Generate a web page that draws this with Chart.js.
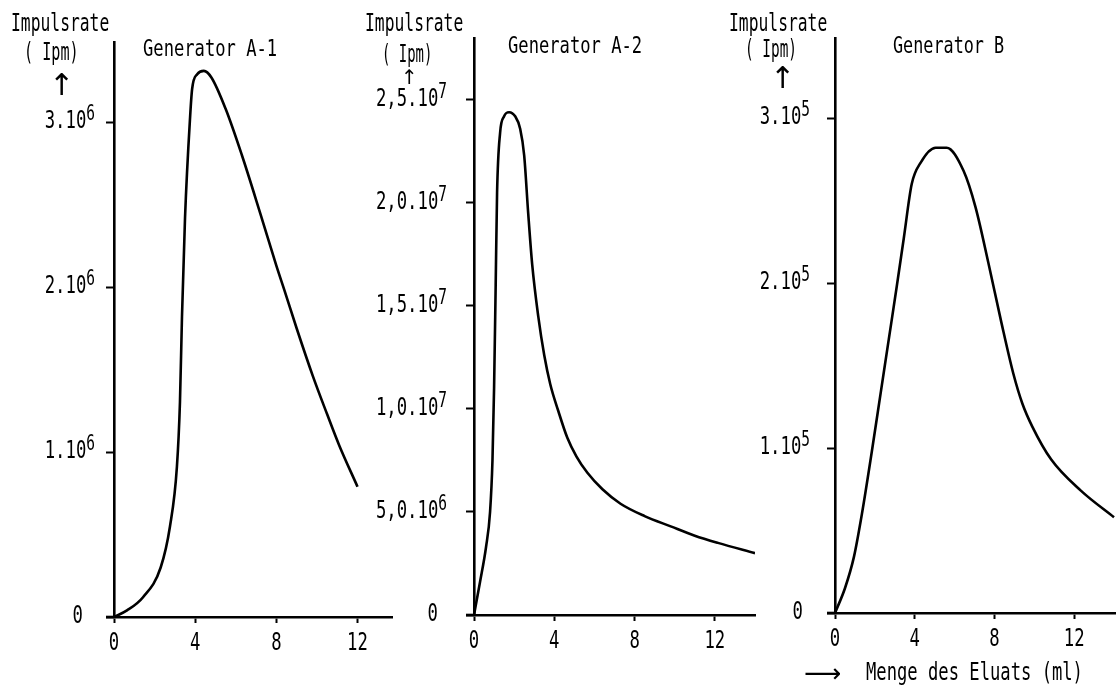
<!DOCTYPE html>
<html>
<head>
<meta charset="utf-8">
<script src="https://cdn.jsdelivr.net/npm/chart.js@4"></script>
<style>
html,body{margin:0;padding:0;background:#fff;width:1116px;height:689px;overflow:hidden;position:relative;}
canvas{position:absolute;top:0;}
.t{position:absolute;font-family:'DejaVu Sans Mono','Liberation Mono',monospace;color:#000;white-space:pre;transform-origin:0 0;line-height:1;}
.ar{position:absolute;font-family:'DejaVu Sans','Liberation Sans',sans-serif;color:#000;line-height:1;white-space:pre;}
</style>
</head>
<body>
<canvas id="c1" width="400" height="689" style="left:0px"></canvas>
<canvas id="c2" width="400" height="689" style="left:360px"></canvas>
<canvas id="c3" width="396" height="689" style="left:720px"></canvas>

<div class="t" style="left:11px;top:11px;font-size:24px;transform:scaleX(0.68)">Impulsrate</div>
<div class="t" style="left:24px;top:40px;font-size:24px;transform:scaleX(0.63)">( Ipm)</div>
<div class="ar" style="left:49px;top:70px;font-size:30px;">↑</div>
<div class="t" style="left:143px;top:37px;font-size:23px;transform:scaleX(0.745)">Generator A-1</div>

<div class="t" style="left:365px;top:11px;font-size:24px;transform:scaleX(0.68)">Impulsrate</div>
<div class="t" style="left:382px;top:42px;font-size:24px;transform:scaleX(0.58)">( Ipm)</div>
<div class="ar" style="left:401px;top:67px;font-size:20px;">↑</div>
<div class="t" style="left:508px;top:34px;font-size:23px;transform:scaleX(0.745)">Generator A-2</div>

<div class="t" style="left:729px;top:11px;font-size:24px;transform:scaleX(0.68)">Impulsrate</div>
<div class="t" style="left:745px;top:37px;font-size:24px;transform:scaleX(0.6)">( Ipm)</div>
<div class="ar" style="left:770px;top:63px;font-size:30px;">↑</div>
<div class="t" style="left:893px;top:34px;font-size:23px;transform:scaleX(0.73)">Generator B</div>

<div class="ar" style="left:804px;top:660px;font-size:26px;">⟶</div>
<div class="t" style="left:866px;top:660px;font-size:24px;transform:scaleX(0.715)">Menge des Eluats (ml)</div>

<script>
// ---------- data ----------
// Generator A-1
const xA1 = [0, 0.64, 1.43, 2.3, 2.76, 3.1, 3.25, 3.35, 3.5, 3.75, 3.85, 4.1, 4.43, 4.8, 5.5, 6.3, 7.2, 8.0, 8.4, 9.0, 9.8, 10.5, 11.1, 12.0];
const yA1 = [0, 0.04e6, 0.12e6, 0.30e6, 0.55e6, 0.91e6, 1.30e6, 1.82e6, 2.42e6, 3.03e6, 3.20e6, 3.29e6, 3.31e6, 3.27e6, 3.08e6, 2.80e6, 2.45e6, 2.13e6, 1.98e6, 1.75e6, 1.46e6, 1.23e6, 1.04e6, 0.79e6];
const yTicksA1 = [0, 1e6, 2e6, 3e6];
const yLabelsA1 = ['0', '1.10^6', '2.10^6', '3.10^6'];

// Generator A-2
const xA2 = [0, 0.3, 0.6, 0.8, 0.92, 1.0, 1.08, 1.15, 1.3, 1.5, 1.75, 2.05, 2.3, 2.5, 2.7, 2.9, 3.2, 3.5, 3.8, 4.2, 4.65, 5.1, 5.65, 6.4, 7.3, 8.5, 9.8, 11.0, 12.15, 14.0];
const yA2 = [0, 1.6e6, 3.3e6, 5.0e6, 7.5e6, 11e6, 16e6, 20.5e6, 23.4e6, 24.2e6, 24.4e6, 24.2e6, 23.6e6, 22.3e6, 19.5e6, 17.0e6, 14.5e6, 12.6e6, 11.2e6, 9.9e6, 8.6e6, 7.7e6, 6.9e6, 6.1e6, 5.4e6, 4.8e6, 4.3e6, 3.85e6, 3.5e6, 3.0e6];
const yTicksA2 = [0, 5e6, 10e6, 15e6, 20e6, 25e6];
const yLabelsA2 = ['0', '5,0.10^6', '1,0.10^7', '1,5.10^7', '2,0.10^7', '2,5.10^7'];

// Generator B
const xB = [0, 0.5, 0.95, 1.35, 1.85, 2.3, 2.7, 3.1, 3.45, 3.85, 4.3, 5.05, 5.6, 6.45, 7.05, 7.7, 8.35, 8.95, 9.4, 9.9, 10.85, 12.35, 14.0];
const yB = [0, 0.15e5, 0.34e5, 0.60e5, 0.98e5, 1.34e5, 1.66e5, 1.98e5, 2.27e5, 2.60e5, 2.73e5, 2.82e5, 2.82e5, 2.68e5, 2.46e5, 2.12e5, 1.76e5, 1.45e5, 1.27e5, 1.13e5, 0.93e5, 0.74e5, 0.58e5];
const yTicksB = [0, 1e5, 2e5, 3e5];
const yLabelsB = ['0', '1.10^5', '2.10^5', '3.10^5'];

// x axis (Menge des Eluats, ml)
const xTicks = [0, 4, 8, 12];
const xLabels = ['0', '4', '8', '12'];

// ---------- drawing ----------
const F_MONO = "'DejaVu Sans Mono','Liberation Mono',monospace";

function drawScaled(ctx, text, x, y, size, sx, align) {
  ctx.font = size + 'px ' + F_MONO;
  const w = ctx.measureText(text).width * sx;
  const x0 = align === 'center' ? x - w / 2 : (align === 'right' ? x - w : x);
  ctx.save();
  ctx.translate(x0, y);
  ctx.scale(sx, 1);
  ctx.fillText(text, 0, 0);
  ctx.restore();
  return w;
}

const axisLabelPlugin = {
  id: 'axisLabelPlugin',
  afterDraw(chart, args, o) {
    const ctx = chart.ctx, sy = chart.scales.y, sxs = chart.scales.x;
    ctx.save();
    // short overhang of the x axis line to the left of the y axis (as in the plot)
    const y0 = sy.getPixelForValue(0);
    ctx.strokeStyle = '#000';
    ctx.lineWidth = 2.6;
    ctx.beginPath();
    ctx.moveTo(sxs.getPixelForValue(0) - o.overhang, y0);
    ctx.lineTo(sxs.getPixelForValue(0), y0);
    ctx.stroke();

    ctx.fillStyle = '#000';
    ctx.textBaseline = 'alphabetic';
    ctx.textAlign = 'left';
    // y tick labels (with raised exponent)
    sy.ticks.forEach(t => {
      const idx = o.yValues.indexOf(t.value);
      if (idx < 0) return;
      const parts = o.yLabels[idx].split('^');
      const base = parts[0], exp = parts[1] || '';
      ctx.font = o.expSize + 'px ' + F_MONO;
      const ew = exp ? ctx.measureText(exp).width * o.sx : 0;
      const right = sy.right - o.gap - (t.value === 0 ? o.zeroShift : 0);
      const y = sy.getPixelForValue(t.value) + o.dy;
      drawScaled(ctx, base, right - ew, y, o.size, o.sx, 'right');
      if (exp) drawScaled(ctx, exp, right - ew, y - o.rise, o.expSize, o.sx, 'left');
    });
    // x tick labels
    sxs.ticks.forEach(t => {
      const idx = xTicks.indexOf(t.value);
      if (idx < 0) return;
      drawScaled(ctx, xLabels[idx], sxs.getPixelForValue(t.value), sxs.top + o.xDy, o.size, o.sx, 'center');
    });
    ctx.restore();
  }
};

function makeChart(id, xs, ys, yTicks, yLabels, g) {
  const data = xs.map((x, i) => ({x: x, y: ys[i]}));
  return new Chart(document.getElementById(id), {
    type: 'line',
    data: {datasets: [{
      data: data, borderColor: '#000', borderWidth: 2.6, pointRadius: 0,
      fill: false, cubicInterpolationMode: 'monotone'
    }]},
    plugins: [axisLabelPlugin],
    options: {
      responsive: false, animation: false, events: [],
      layout: {padding: {left: 0, right: g.padRight, top: g.top, bottom: 0}},
      plugins: {
        legend: {display: false}, tooltip: {enabled: false},
        axisLabelPlugin: {yValues: yTicks, yLabels: yLabels, size: 25, expSize: 21, sx: 0.69,
                          gap: g.gap, zeroShift: g.zeroShift, dy: 6, rise: 8, xDy: 33, overhang: 8}
      },
      scales: {
        x: {
          type: 'linear', min: 0, max: g.xMax,
          afterBuildTicks: s => { s.ticks = xTicks.map(v => ({value: v})); },
          afterFit: s => { s.height = g.xH; },
          grid: {drawOnChartArea: false, drawTicks: true, tickLength: 6, tickColor: '#000', tickWidth: 2},
          border: {display: true, color: '#000', width: 2.6},
          ticks: {display: false}
        },
        y: {
          type: 'linear', min: 0, max: g.yMax,
          afterBuildTicks: s => { s.ticks = yTicks.map(v => ({value: v})); },
          afterFit: s => { s.width = g.yW; },
          grid: {drawOnChartArea: false, drawTicks: true, tickLength: 8, tickColor: '#000', tickWidth: 2},
          border: {display: true, color: '#000', width: 2.6},
          ticks: {display: false}
        }
      }
    }
  });
}

makeChart('c1', xA1, yA1, yTicksA1, yLabelsA1,
  {top: 42, xH: 72, yW: 114, padRight: 8, xMax: 13.7, yMax: 3.485e6, gap: 19, zeroShift: 12});
makeChart('c2', xA2, yA2, yTicksA2, yLabelsA2,
  {top: 38, xH: 74, yW: 114, padRight: 5, xMax: 14.0, yMax: 28.0e6, gap: 27, zeroShift: 9});
makeChart('c3', xB, yB, yTicksB, yLabelsB,
  {top: 38, xH: 76, yW: 115, padRight: 0, xMax: 14.1, yMax: 3.485e5, gap: 25, zeroShift: 7});
</script>
</body>
</html>
